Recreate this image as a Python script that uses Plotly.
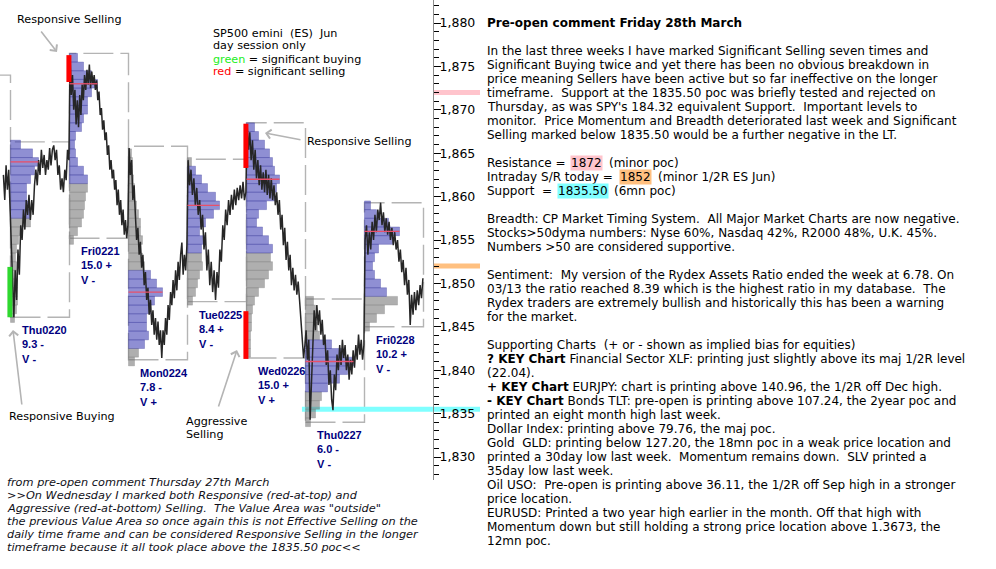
import plotly.graph_objects as go

W, H = 996, 569

# ---------------- data ----------------
day_names = ["Thu0220", "Fri0221", "Mon0224", "Tue0225", "Wed0226", "Thu0227", "Fri0228"]
day_range_txt = ["9.3 -", "15.0 +", "7.8 -", "8.4 +", "15.0 +", "6.0 -", "10.2 +"]
day_value_txt = ["V -", "V -", "V +", "V -", "V +", "V -", "V -"]
day_high = [1866.3, 1876.5, 1865.8, 1864.3, 1868.5, 1848.2, 1859.3]
day_low = [1846.1, 1855.2, 1841.2, 1847.9, 1841.4, 1834.0, 1845.0]
prev_day_high = 1874.0  # Wed0219, mostly off the left edge

price_wed0219_tail = [1862.5, 1859.6, 1863.6, 1860.8, 1863.1]
price_thu0220 = [1854.4, 1849.2, 1846.1, 1851.5, 1848.1, 1853.9, 1851.0, 1856.7, 1855.0, 1858.5, 1856.2,
                 1859.6, 1857.9, 1860.2, 1857.3, 1859.6, 1857.9, 1861.3, 1863.1, 1861.3, 1864.2, 1862.5,
                 1865.4, 1863.3, 1864.8, 1862.5, 1864.2, 1863.1, 1865.6, 1863.6, 1865.4, 1865.9, 1864.2,
                 1865.4, 1862.5, 1863.6, 1860.8, 1862.1, 1860.5, 1863.1, 1861.9, 1865.4, 1864.2]
price_fri0221 = [1876.2, 1871.7, 1874.0, 1870.0, 1872.3, 1868.3, 1871.1, 1868.0, 1871.7, 1869.4, 1872.9,
                 1871.1, 1874.0, 1872.3, 1874.6, 1872.9, 1875.2, 1872.5, 1874.4, 1872.9, 1874.0, 1872.3,
                 1873.4, 1871.1, 1872.1, 1869.4, 1870.2, 1867.7, 1868.8, 1866.5, 1867.4, 1864.8, 1865.9,
                 1863.1, 1864.2, 1862.1, 1863.1, 1860.8, 1861.9, 1859.0, 1860.8, 1857.9, 1859.6, 1856.7,
                 1858.5, 1855.6, 1857.3, 1855.2, 1856.7]
price_mon0224 = [1865.6, 1862.5, 1864.2, 1859.6, 1861.3, 1857.9, 1855.0, 1856.4, 1853.3, 1854.8, 1851.8,
                 1853.3, 1849.8, 1851.3, 1848.1, 1849.5, 1846.4, 1848.1, 1845.2, 1846.9, 1844.1, 1846.0,
                 1843.5, 1845.6, 1842.9, 1844.6, 1841.4, 1844.6, 1842.9, 1846.0, 1844.1, 1847.5, 1845.8,
                 1849.0, 1847.5, 1850.4, 1848.3, 1851.5, 1849.2, 1852.5, 1850.4, 1853.3, 1854.7, 1851.0,
                 1853.3, 1851.5, 1854.4]
price_tue0225 = [1864.2, 1861.3, 1863.1, 1860.2, 1862.1, 1859.0, 1861.0, 1857.9, 1859.6, 1856.2, 1857.9,
                 1853.9, 1855.9, 1851.5, 1853.9, 1849.8, 1852.5, 1849.0, 1851.5, 1848.1, 1851.3, 1849.5,
                 1853.9, 1852.5, 1856.7, 1855.0, 1858.5, 1856.7, 1859.6, 1857.9, 1860.2, 1858.5, 1860.8,
                 1859.0, 1861.0, 1859.6, 1861.3, 1859.8, 1861.7, 1859.6, 1860.5]
price_wed0226 = [1868.3, 1865.4, 1867.4, 1864.2, 1866.5, 1863.1, 1865.4, 1862.1, 1864.2, 1861.3, 1863.6,
                 1860.8, 1862.8, 1860.5, 1863.1, 1860.2, 1862.5, 1859.8, 1862.1, 1859.6, 1861.3, 1859.0,
                 1860.5, 1857.9, 1859.6, 1856.2, 1857.9, 1854.4, 1856.4, 1852.7, 1854.8, 1851.5, 1853.3,
                 1849.8, 1851.8, 1849.2, 1851.0, 1848.7, 1850.2, 1848.1, 1845.8, 1843.5, 1841.4, 1842.9]
price_thu0227 = [1844.6, 1841.2, 1843.5, 1834.3, 1838.9, 1842.9, 1846.9, 1844.6, 1847.5, 1845.2, 1846.9,
                 1844.1, 1845.8, 1842.9, 1844.1, 1840.6, 1842.3, 1838.3, 1840.0, 1836.6, 1835.4, 1839.5,
                 1837.7, 1841.8, 1840.0, 1842.9, 1840.6, 1843.5, 1841.4, 1842.9, 1840.0, 1841.8, 1838.9,
                 1841.2, 1839.5, 1842.3, 1840.3, 1842.9, 1841.2, 1844.1, 1841.8, 1843.5, 1841.2, 1842.9]
price_fri0228 = [1855.0, 1856.7, 1853.3, 1855.9, 1853.9, 1857.1, 1855.0, 1857.9, 1855.9, 1858.5, 1857.3,
                 1859.3, 1856.7, 1858.2, 1855.9, 1857.5, 1855.6, 1857.1, 1855.0, 1856.4, 1854.4, 1855.9,
                 1853.9, 1855.0, 1852.5, 1853.9, 1851.3, 1852.7, 1849.8, 1851.8, 1848.7, 1850.4, 1845.2,
                 1848.7, 1846.4, 1849.0, 1846.9, 1849.2, 1847.5, 1849.8, 1848.3, 1850.6]
day_prices = [price_thu0220, price_fri0221, price_mon0224, price_tue0225,
              price_wed0226, price_thu0227, price_fri0228]

# volume/time profiles: one count per 1-point price level, from profile_top downwards
profile_top = [1866, 1876, 1865, 1864, 1868, 1848, 1859]
profile_counts = [
    [10, 22, 28, 24, 20, 16, 16, 18, 20, 20, 12, 8, 6, 5, 6, 7, 7, 7, 7, 6, 4],
    [8, 14, 22, 28, 22, 18, 18, 14, 12, 6, 5, 6, 8, 14, 18, 18, 16, 15, 14, 12, 8, 4],
    [3, 4, 4, 5, 6, 6, 8, 10, 12, 12, 14, 10, 14, 16, 22, 28, 34, 26, 22, 18, 18, 20, 16, 10, 6],
    [4, 8, 14, 20, 28, 32, 26, 18, 12, 18, 14, 14, 15, 12, 10, 8, 5],
    [8, 12, 18, 23, 26, 28, 33, 30, 28, 20, 12, 10, 16, 22, 26, 24, 26, 22, 18, 12, 8, 6, 5, 5, 4, 4, 4],
    [8, 10, 10, 12, 14, 26, 38, 48, 42, 34, 22, 16, 14, 10, 5],
    [6, 12, 24, 35, 28, 14, 10, 8, 10, 16, 22, 33, 20, 12, 5],
]
va_high = [1866, 1876, 1851, 1863, 1868, 1843, 1859]
va_low = [1858, 1862, 1843, 1854, 1854, 1838, 1849]

# significant buying / selling marks
sig_day = [0, 1, 4, 4]
sig_high = [1851.9, 1876.3, 1868.4, 1846.8]
sig_low = [1846.1, 1873.2, 1863.3, 1841.3]
sig_color = ["#2FD82F", "#FF0000", "#FF0000", "#FF0000"]

# key levels (resistance, intraday S/R, support)
level_price = [1872, 1852, 1835.5]
level_color = ["#FFC4CC", "#FFC080", "#80FFFF"]
level_from_day = [7.161, 7.161, 4.94]

y_ticks_major = 5

# ---------------- layout helpers ----------------
DAY_PX = 59.0
X0_PX = 10.5
PLOT_W_PX = 480
PLOT_H_PX = 480
PX_PER_PT = 8.68
y_top = 1880 + 23 / PX_PER_PT
y_bot = y_top - PLOT_H_PX / PX_PER_PT
x_left = -X0_PX / DAY_PX
x_right = (PLOT_W_PX - X0_PX) / DAY_PX
count_to_day = 1.0 / DAY_PX

def pxx(x):
    return x / W

def pxy(y):
    return 1 - y / H

fig = go.Figure()

# price line
xs, ys = [], []
n = len(price_wed0219_tail)
for i, p in enumerate(price_wed0219_tail):
    xs.append(-0.12 + 0.09 * i / (n - 1))
    ys.append(p)
for d, prices in enumerate(day_prices):
    n = len(prices)
    for i, p in enumerate(prices):
        xs.append(d + 0.01 + 0.98 * i / (n - 1))
        ys.append(p)
fig.add_trace(go.Scatter(x=xs, y=ys, mode="lines", line=dict(color="#262626", width=1.5),
                         hoverinfo="skip", showlegend=False))

# profiles
bx, by, bb, gx, gy, gb = [], [], [], [], [], []
poc_x, poc_y = [], []
for d in range(len(day_names)):
    counts = profile_counts[d]
    best = max(range(len(counts)), key=lambda k: counts[k])
    for k, c in enumerate(counts):
        lvl = profile_top[d] - k
        if va_low[d] <= lvl <= va_high[d]:
            bx.append(c * count_to_day); by.append(lvl); bb.append(d)
        else:
            gx.append(c * count_to_day); gy.append(lvl); gb.append(d)
    poc_x += [d, d + counts[best] * count_to_day, None]
    poc_y += [profile_top[d] - best, profile_top[d] - best, None]

fig.add_trace(go.Bar(orientation="h", x=gx, y=gy, base=gb, width=1.0,
                     marker=dict(color="rgba(110,110,110,0.55)",
                                 line=dict(color="rgba(120,120,120,0.5)", width=0.6)),
                     hoverinfo="skip", showlegend=False))
fig.add_trace(go.Bar(orientation="h", x=bx, y=by, base=bb, width=1.0,
                     marker=dict(color="rgba(40,40,170,0.52)",
                                 line=dict(color="rgba(50,50,150,0.5)", width=0.6)),
                     hoverinfo="skip", showlegend=False))
fig.add_trace(go.Scatter(x=poc_x, y=poc_y, mode="lines", line=dict(color="#E8506A", width=1.3),
                         hoverinfo="skip", showlegend=False))

shapes = []
box_line = dict(color="#B4B4B4", width=1.4, dash="30px,7px")
# previous-day box (only top/right visible)
shapes.append(dict(type="path", xref="x", yref="y", layer="below",
                   path=f"M -1,{prev_day_high} L 0,{prev_day_high} L 0,{day_high[0]}",
                   line=box_line))
for d in range(len(day_names)):
    shapes.append(dict(type="rect", xref="x", yref="y", layer="below",
                       x0=d, x1=d + 1, y0=day_low[d], y1=day_high[d], line=box_line))
for lp, lc, lf in zip(level_price, level_color, level_from_day):
    shapes.append(dict(type="line", xref="x", yref="y", layer="below",
                       x0=lf, x1=x_right, y0=lp, y1=lp, line=dict(color=lc, width=5)))
for sd, sh, sl, sc in zip(sig_day, sig_high, sig_low, sig_color):
    shapes.append(dict(type="line", xref="x", yref="y", layer="above",
                       x0=sd - 0.01, x1=sd - 0.01, y0=sl, y1=sh, line=dict(color=sc, width=5)))

ann = []
TXT = "DejaVu Sans"
BODY = 12
# day labels
for d in range(len(day_names)):
    ann.append(dict(xref="x", yref="y", x=d + 0.16, y=day_low[d], xanchor="left", yanchor="top",
                    yshift=-5, showarrow=False, align="left",
                    text=f"{day_names[d]}<br>{day_range_txt[d]}<br>{day_value_txt[d]}",
                    font=dict(family="Liberation Sans", size=11, color="#000080", weight="bold")))

def txt(x, y, s, size=11, color="#000000", family=TXT, **kw):
    d = dict(xref="paper", yref="paper", x=pxx(x), y=pxy(y), xanchor="left", yanchor="middle",
             showarrow=False, text=s, font=dict(family=family, size=size, color=color))
    d.update(kw)
    ann.append(d)

def arrow(tipx, tipy, tailx, taily):
    ann.append(dict(xref="paper", yref="paper", x=pxx(tipx), y=pxy(tipy), ax=tailx - tipx,
                    ay=taily - tipy, text="", showarrow=True, arrowhead=4, arrowsize=1.1,
                    arrowwidth=1.6, arrowcolor="#B4B4B4", standoff=0, startstandoff=0))

txt(15, 20, "Responsive Selling", size=11.2)
arrow(57, 52, 40, 30)
txt(305, 141, "Responsive Selling", size=11.2)
arrow(265, 133, 302, 140)
txt(7, 416, "Responsive Buying", size=11.2)
arrow(13, 330, 22, 406)
txt(184, 421, "Aggressive", size=11.2)
txt(184, 434, "Selling", size=11.2)
arrow(237, 350, 218, 408)

txt(211, 33, "SP500 emini  (ES)  Jun", size=11.2)
txt(211, 46, "day session only", size=11.2)
txt(211, 59, "<span style='color:#22EE22'>green</span> = significant buying", size=11.2)
txt(211, 72, "<span style='color:#FF0000'>red</span> = significant selling", size=11.2)

notes = [
    "from pre-open comment Thursday 27th March",
    "&gt;&gt;On Wednesday I marked both Responsive (red-at-top) and",
    "Aggressive (red-at-bottom) Selling.  The Value Area was \"outside\"",
    "the previous Value Area so once again this is not Effective Selling on the",
    "daily time frame and can be considered Responsive Selling in the longer",
    "timeframe because it all took place above the 1835.50 poc&lt;&lt;",
]
for i, s in enumerate(notes):
    txt(5, 482 + 13 * i, f"<i>{s}</i>", size=11.3, color="#101018")

# right-hand commentary
txt(485, 23, "<b>Pre-open comment Friday 28th March</b>", size=12)
r_lines = [
    (51, "In the last three weeks I have marked Significant Selling seven times and"),
    (65, "Significant Buying twice and yet there has been no obvious breakdown in"),
    (79, "price meaning Sellers have been active but so far ineffective on the longer"),
    (93, "timeframe.  Support at the 1835.50 poc was briefly tested and rejected on"),
    (107, "Thursday, as was SPY's 184.32 equivalent Support.  Important levels to"),
    (121, "monitor.  Price Momentum and Breadth deteriorated last week and Significant"),
    (135, "Selling marked below 1835.50 would be a further negative in the LT."),
    (219, "Breadth: CP Market Timing System.  All Major Market Charts are now negative."),
    (233, "Stocks&gt;50dyma numbers: Nyse 60%, Nasdaq 42%, R2000 48%, U.K. 45%."),
    (247, "Numbers &gt;50 are considered supportive."),
    (275, "Sentiment:  My version of the Rydex Assets Ratio ended the week at 6.78. On"),
    (289, "03/13 the ratio reached 8.39 which is the highest ratio in my database.  The"),
    (303, "Rydex traders are extremely bullish and historically this has been a warning"),
    (317, "for the market."),
    (345, "Supporting Charts  (+ or - shown as implied bias for equities)"),
    (359, "<b>? KEY Chart</b> Financial Sector XLF: printing just slightly above its maj 1/2R level"),
    (373, "(22.04)."),
    (387, "<b>+ KEY Chart</b> EURJPY: chart is printing above 140.96, the 1/2R off Dec high."),
    (401, "<b>- KEY Chart</b> Bonds TLT: pre-open is printing above 107.24, the 2year poc and"),
    (415, "printed an eight month high last week."),
    (429, "Dollar Index: printing above 79.76, the maj poc."),
    (443, "Gold  GLD: printing below 127.20, the 18mn poc in a weak price location and"),
    (457, "printed a 30day low last week.  Momentum remains down.  SLV printed a"),
    (471, "35day low last week."),
    (485, "Oil USO:  Pre-open is printing above 36.11, the 1/2R off Sep high in a stronger"),
    (499, "price location."),
    (513, "EURUSD: Printed a two year high earlier in the month. Off that high with"),
    (527, "Momentum down but still holding a strong price location above 1.3673, the"),
    (541, "12mn poc."),
]
for y, s in r_lines:
    txt(485, y, s, size=BODY)

# highlighted levels
hl = [
    (163, "Resistance =", f"{level_price[0]}", "(minor poc)", 570, 607, level_color[0]),
    (177, "Intraday S/R today =", f"{level_price[1]}", "(minor 1/2R ES Jun)", 619, 656, level_color[1]),
    (191, "Support  =", f"{level_price[2]:.2f}", "(6mn poc)", 557, 612, level_color[2]),
]
for y, a, b, c, xb, xc, col in hl:
    txt(485, y, a, size=BODY)
    txt(xb, y, b, size=BODY, bgcolor=col, borderpad=0)
    txt(xc, y, c, size=BODY)

fig.update_layout(
    width=W, height=H, margin=dict(l=0, r=0, t=0, b=0),
    paper_bgcolor="white", plot_bgcolor="white", barmode="overlay",
    shapes=shapes, annotations=ann, showlegend=False,
    xaxis=dict(domain=[0, PLOT_W_PX / W], range=[x_left, x_right], visible=False, fixedrange=True),
    yaxis=dict(domain=[1 - PLOT_H_PX / H, 1], range=[y_bot, y_top], anchor="free",
               position=433 / W, side="right", showline=True, linecolor="#8C8C8C", linewidth=1,
               showgrid=False, zeroline=False, ticks="outside", ticklen=7, tickcolor="#000000",
               tick0=1830, dtick=y_ticks_major, tickformat=",", ticklabelstandoff=-4,
               tickfont=dict(family=TXT, size=12.5, color="#000000"),
               minor=dict(dtick=1, ticks="outside", ticklen=5, tickcolor="#000000", showgrid=False),
               automargin=False),
    font=dict(family=TXT),
)

fig.write_html("out.html")
